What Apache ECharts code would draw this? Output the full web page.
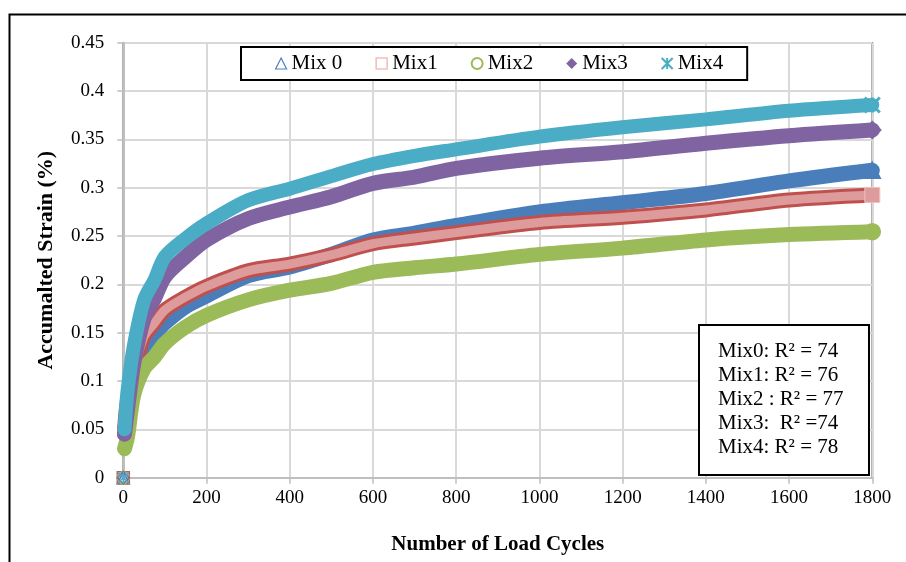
<!DOCTYPE html>
<html>
<head>
<meta charset="utf-8">
<title>Accumulated strain vs load cycles</title>
<script src="https://cdn.jsdelivr.net/npm/echarts@6/dist/echarts.min.js"></script>
<style>
  html, body { margin: 0; padding: 0; background: #fff; }
  #chart { width: 906px; height: 562px; }
</style>
</head>
<body>
<div id="chart"></div>
<script>
// Load cycles at which strain was sampled
const cycles = [0, 3, 10, 25, 50, 75, 100, 150, 200, 300, 400, 500, 600, 700, 800, 1000, 1200, 1400, 1600, 1800];

// Accumulated strain (%) per mix
const mix0 = [0, 0.045, 0.072, 0.103, 0.134, 0.148, 0.160, 0.177, 0.188, 0.209, 0.218, 0.231, 0.246, 0.253, 0.261, 0.275, 0.2845, 0.294, 0.307, 0.318];
const mix1 = [0, 0.050, 0.080, 0.110, 0.146, 0.160, 0.1735, 0.187, 0.198, 0.214, 0.221, 0.2304, 0.242, 0.248, 0.2535, 0.264, 0.2695, 0.277, 0.2873, 0.2925];
const mix2 = [0, 0.030, 0.042, 0.0855, 0.113, 0.125, 0.139, 0.156, 0.168, 0.184, 0.194, 0.201, 0.2125, 0.2172, 0.221, 0.231, 0.2375, 0.246, 0.2515, 0.2545];
const mix3 = [0, 0.045, 0.070, 0.118, 0.165, 0.1855, 0.208, 0.2286, 0.246, 0.268, 0.280, 0.2907, 0.3045, 0.311, 0.320, 0.3305, 0.3372, 0.346, 0.3538, 0.3597];
const mix4 = [0, 0.050, 0.089, 0.1355, 0.1838, 0.2045, 0.2286, 0.2476, 0.263, 0.287, 0.299, 0.312, 0.3245, 0.333, 0.3397, 0.3528, 0.3625, 0.3707, 0.3796, 0.3855];

const seriesNames = ['Mix 0', 'Mix1', 'Mix2', 'Mix3', 'Mix4'];
const fitLines = ['Mix0: R\u00b2 = 74', 'Mix1: R\u00b2 = 76', 'Mix2 : R\u00b2 = 77', 'Mix3:  R\u00b2 =74', 'Mix4: R\u00b2 = 78'];

const SERIF = '"Liberation Serif", "Times New Roman", serif';
const ASTERISK = 'path://M5,0L5,10M0,0L10,10M10,0L0,10';

const colors = {
  mix0: '#4a7ebb',
  mix1: '#c0504d',
  mix1Fill: '#dd9c9b',
  mix1Marker: '#f0c0bf',
  mix2: '#9bbb59',
  mix3: '#8064a2',
  mix4: '#4bacc6'
};

const BAND = 15;
const SMOOTH = 0.3;

// Build the data for one mix: a hollow marker at cycle 0 that stands apart
// from the curve (the line is broken after it), plain points along the band,
// and a solid end marker at the last cycle.
function points(values, endStyle) {
  const out = [];
  cycles.forEach((c, i) => {
    if (i === 0) {
      out.push({ value: [c, values[i]], symbolSize: 12 });
      out.push({ value: [1, '-'] });
    } else if (i === cycles.length - 1) {
      out.push(Object.assign({ value: [c, values[i]] }, endStyle));
    } else {
      out.push({ value: [c, values[i]], symbol: 'none' });
    }
  });
  return out;
}

function band(name, values, color, symbol, endStyle, lineExtra) {
  return {
    name: name,
    type: 'line',
    data: points(values, endStyle),
    smooth: SMOOTH,
    connectNulls: false,
    symbol: symbol,
    symbolSize: 12,
    showSymbol: true,
    lineStyle: Object.assign({ color: color, width: BAND, cap: 'round', join: 'round' }, lineExtra || {}),
    itemStyle: { color: 'rgba(255,255,255,0)', borderColor: color, borderWidth: 1.5 },
    emphasis: { disabled: true },
    z: 3
  };
}

const chart = echarts.init(document.getElementById('chart'), null, { renderer: 'canvas' });

const option = {
  animation: false,
  backgroundColor: '#fff',
  textStyle: { fontFamily: SERIF },
  grid: {
    left: 123.3, right: 33.7, top: 42.7, bottom: 84.3,
    show: true, borderColor: '#595959', borderWidth: 1.5, backgroundColor: 'transparent'
  },
  xAxis: {
    type: 'value', min: 0, max: 1800, interval: 200,
    name: 'Number of Load Cycles', nameLocation: 'middle', nameGap: 56,
    nameTextStyle: { fontFamily: SERIF, fontWeight: 'bold', fontSize: 21, color: '#000' },
    axisLine: { show: true, onZero: false, lineStyle: { color: '#bfbfbf', width: 2 } },
    axisTick: { show: true, length: 6, lineStyle: { color: '#bfbfbf', width: 1.5 } },
    axisLabel: { fontFamily: SERIF, fontSize: 19, color: '#000', margin: 11, formatter: v => String(v) },
    splitLine: { show: true, lineStyle: { color: '#d9d9d9', width: 2 } }
  },
  yAxis: {
    type: 'value', min: 0, max: 0.45, interval: 0.05,
    name: 'Accumalted Strain (%)', nameLocation: 'middle', nameGap: 66, nameRotate: 90,
    nameTextStyle: { fontFamily: SERIF, fontWeight: 'bold', fontSize: 22, color: '#000' },
    axisLine: { show: true, onZero: false, lineStyle: { color: '#bfbfbf', width: 2 } },
    axisTick: { show: true, length: 6, lineStyle: { color: '#bfbfbf', width: 1.5 } },
    axisLabel: { fontFamily: SERIF, fontSize: 19, color: '#000', margin: 19 },
    splitLine: { show: true, lineStyle: { color: '#d9d9d9', width: 2 } }
  },
  legend: {
    left: 241, top: 47,
    orient: 'horizontal',
    backgroundColor: '#fff',
    borderColor: '#000', borderWidth: 2, borderRadius: 0,
    padding: [6, 24, 6, 34],
    itemGap: 33, itemWidth: 11, itemHeight: 11,
    textStyle: { fontFamily: SERIF, fontSize: 21, color: '#000' },
    selectedMode: false,
    data: [
      { name: seriesNames[0], icon: 'triangle', itemStyle: { color: 'rgba(255,255,255,0)', borderColor: '#4f81bd', borderWidth: 1.2 } },
      { name: seriesNames[1], icon: 'rect', itemStyle: { color: 'rgba(255,255,255,0)', borderColor: colors.mix1Marker, borderWidth: 1.6 } },
      { name: seriesNames[2], icon: 'circle', itemStyle: { color: 'rgba(255,255,255,0)', borderColor: colors.mix2, borderWidth: 2 } },
      { name: seriesNames[3], icon: 'diamond', itemStyle: { color: colors.mix3, borderColor: colors.mix3, borderWidth: 0 } },
      { name: seriesNames[4], icon: ASTERISK, itemStyle: { color: 'rgba(255,255,255,0)', borderColor: colors.mix4, borderWidth: 2 } }
    ]
  },
  series: [
    band(seriesNames[0], mix0, colors.mix0, 'triangle',
      { symbolSize: 16, itemStyle: { color: colors.mix0, borderColor: colors.mix0 } }),
    band(seriesNames[1], mix1, colors.mix1, 'rect',
      { symbolSize: 15, itemStyle: { color: colors.mix1Fill, borderColor: colors.mix1Marker, borderWidth: 1 } },
      { cap: 'butt' }),
    // pink core of the Mix1 band
    {
      name: 'Mix1 core', type: 'line', data: points(mix1, { symbol: 'none' }), smooth: SMOOTH,
      symbol: 'none', lineStyle: { color: colors.mix1Fill, width: BAND - 6, cap: 'butt' },
      emphasis: { disabled: true }, z: 3
    },
    band(seriesNames[2], mix2, colors.mix2, 'circle',
      { symbolSize: 16, itemStyle: { color: colors.mix2, borderColor: colors.mix2 } }),
    band(seriesNames[3], mix3, colors.mix3, 'diamond',
      { symbolSize: 17, itemStyle: { color: colors.mix3, borderColor: colors.mix3 } }),
    band(seriesNames[4], mix4, colors.mix4, ASTERISK,
      { symbolSize: 15, itemStyle: { color: 'rgba(255,255,255,0)', borderColor: colors.mix4, borderWidth: 3 } },
      { width: BAND - 1 })
  ],
  graphic: [
    // outer chart frame
    {
      type: 'rect', left: 7, top: 12, z: 0, silent: true,
      shape: { width: 1200, height: 1200 },
      style: { fill: 'none', stroke: '#000', lineWidth: 2 }
    },
    // goodness-of-fit note
    {
      type: 'rect', left: 698, top: 324, z: 100, silent: true,
      shape: { width: 170, height: 150 },
      style: { fill: '#fff', stroke: '#000', lineWidth: 2 }
    },
    {
      type: 'text', left: 718, top: 339, z: 101, silent: true,
      style: {
        text: fitLines.join('\n'),
        font: '21px ' + SERIF,
        lineHeight: 24.2,
        fill: '#000'
      }
    }
  ]
};

chart.setOption(option);
</script>
</body>
</html>
